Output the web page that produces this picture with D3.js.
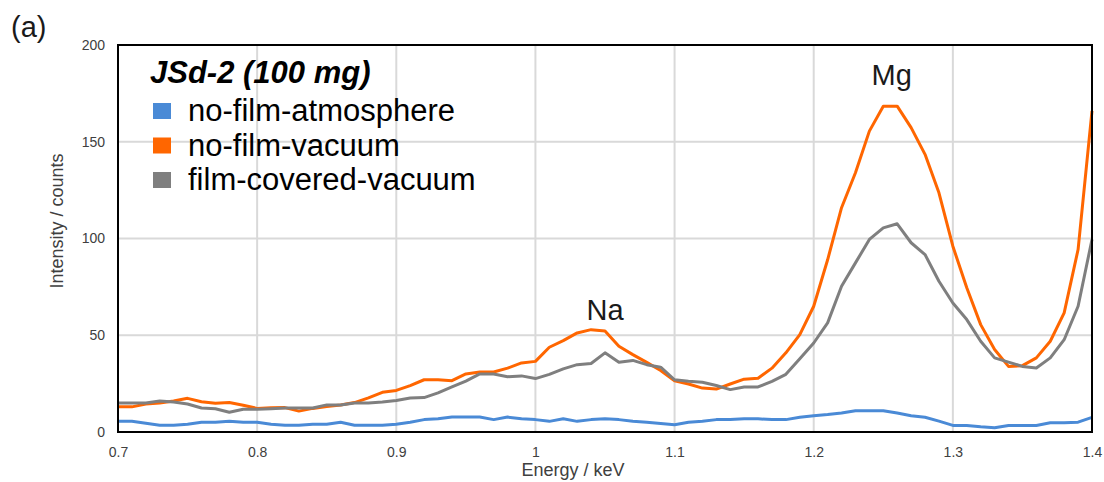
<!DOCTYPE html>
<html>
<head>
<meta charset="utf-8">
<script src="https://cdn.jsdelivr.net/npm/d3@7"></script>
<style>
  html, body { margin: 0; padding: 0; background: #fff; }
  svg { display: block; font-family: "Liberation Sans", Arial, sans-serif; }
</style>
</head>
<body>
<svg id="chart" width="1104" height="482"></svg>
<script>
// energy channels (keV)
const energies = [
  0.70, 0.71, 0.72, 0.73, 0.74, 0.75, 0.76, 0.77, 0.78, 0.79,
  0.80, 0.81, 0.82, 0.83, 0.84, 0.85, 0.86, 0.87, 0.88, 0.89,
  0.90, 0.91, 0.92, 0.93, 0.94, 0.95, 0.96, 0.97, 0.98, 0.99,
  1.00, 1.01, 1.02, 1.03, 1.04, 1.05, 1.06, 1.07, 1.08, 1.09,
  1.10, 1.11, 1.12, 1.13, 1.14, 1.15, 1.16, 1.17, 1.18, 1.19,
  1.20, 1.21, 1.22, 1.23, 1.24, 1.25, 1.26, 1.27, 1.28, 1.29,
  1.30, 1.31, 1.32, 1.33, 1.34, 1.35, 1.36, 1.37, 1.38, 1.39,
  1.40
];

const noFilmAtmosphere = [
  5.5, 5.5, 4.5, 3.5, 3.5, 4, 5, 5, 5.5, 5,
  5, 4, 3.5, 3.5, 4, 4, 5, 3.5, 3.5, 3.5,
  4, 5, 6.4, 6.8, 7.7, 7.7, 7.7, 6.4, 7.7, 6.8,
  6.4, 5.5, 6.8, 5.5, 6.4, 6.8, 6.4, 5.5, 5, 4.4,
  3.8, 5, 5.5, 6.4, 6.4, 6.8, 6.8, 6.4, 6.4, 7.6,
  8.4, 9, 9.8, 11, 11, 11, 9.8, 8.4, 7.6, 5.6,
  3.4, 3.4, 2.7, 2.2, 3.4, 3.4, 3.4, 4.8, 4.8, 5.1,
  7.6
];

const noFilmVacuum = [
  13, 13, 14.5, 15, 16, 17.4, 15.6, 14.8, 15.2, 13.8,
  12.2, 12.5, 12.6, 10.8, 12.2, 13.2, 14, 15.2, 17.6, 20.5,
  21.5, 24, 27, 27, 26.5, 30, 31, 31, 33, 35.7,
  36.5, 43.8, 47.2, 51.2, 52.9, 52.2, 44.3, 40, 36, 31.8,
  26.5, 24.8, 22.7, 22.2, 24.8, 27.3, 27.8, 33, 40.9, 50.3,
  65, 89, 115.9, 134, 155.5, 168.4, 168.4, 157.3, 143.5, 123.6,
  96, 74.5, 55.5, 42.6, 33.9, 34.3, 38.3, 46.9, 61.6, 94.3,
  166
];

const filmCoveredVacuum = [
  15, 15, 15, 16, 15.5, 14.5, 12.4, 12, 10.2, 11.8,
  11.7, 12, 12.4, 12.4, 12.4, 14, 14, 15, 15, 15.5,
  16.3, 17.6, 17.8, 20.2, 23.3, 26.3, 30, 30, 28.6, 29,
  27.6, 29.8, 32.6, 34.8, 35.4, 40.9, 36, 37, 34.8, 33.5,
  27, 26.2, 25.7, 24, 21.9, 23.3, 23.3, 26.2, 29.8, 37.8,
  46, 56.4, 75.3, 87.4, 99.5, 105.5, 107.6, 97.8, 91.7, 77.9,
  66.7, 58.1, 46.9, 38.3, 36.1, 33.9, 33.1, 38.3, 47.7, 65,
  99.5
];

const seriesNames = ["no-film-atmosphere", "no-film-vacuum", "film-covered-vacuum"];
const seriesColors = ["#4a8ad6", "#ff6600", "#7f7f7f"];
const xTicks = [0.7, 0.8, 0.9, 1.0, 1.1, 1.2, 1.3, 1.4];
const yTicks = [0, 50, 100, 150, 200];

// peak labels: [text, energy, counts]
const peakLabels = [["Na", 1.05, 58], ["Mg", 1.256, 179.5]];

const W = 1104, H = 482;
const margin = { top: 45, right: 12, bottom: 50, left: 118 };
const iw = W - margin.left - margin.right;
const ih = H - margin.top - margin.bottom;

const svg = d3.select("#chart");
const g = svg.append("g").attr("transform", `translate(${margin.left},${margin.top})`);

const x = d3.scaleLinear().domain([0.7, 1.4]).range([0, iw]);
const y = d3.scaleLinear().domain([0, 200]).range([ih, 0]);

// grid
g.append("g")
  .selectAll("line")
  .data(xTicks.slice(1, -1))
  .join("line")
  .attr("x1", d => x(d)).attr("x2", d => x(d))
  .attr("y1", 0).attr("y2", ih)
  .attr("stroke", "#d9d9d9").attr("stroke-width", 2);

g.append("g")
  .selectAll("line")
  .data(yTicks.slice(1, -1))
  .join("line")
  .attr("x1", 0).attr("x2", iw)
  .attr("y1", d => y(d)).attr("y2", d => y(d))
  .attr("stroke", "#d9d9d9").attr("stroke-width", 2);

// axes (labels only, frame drawn separately)
const xAxis = g.append("g")
  .attr("transform", `translate(0,${ih})`)
  .call(d3.axisBottom(x).tickValues(xTicks).tickFormat(d3.format("~g")).tickSize(0).tickPadding(15));
const yAxis = g.append("g")
  .call(d3.axisLeft(y).tickValues(yTicks).tickSize(0).tickPadding(13));
[xAxis, yAxis].forEach(a => {
  a.select(".domain").remove();
  a.selectAll("text")
    .attr("fill", "#404040")
    .style("font-size", "14px")
    .style("font-family", "'Liberation Sans', Arial, sans-serif");
});

// lines
const line = d3.line()
  .x((d, i) => x(energies[i]))
  .y(d => y(d));

const allSeries = [noFilmAtmosphere, noFilmVacuum, filmCoveredVacuum];
g.append("g")
  .selectAll("path")
  .data(allSeries)
  .join("path")
  .attr("d", d => line(d))
  .attr("fill", "none")
  .attr("stroke", (d, i) => seriesColors[i])
  .attr("stroke-width", 3)
  .attr("stroke-linejoin", "round");

// frame
g.append("rect")
  .attr("x", 0).attr("y", 0)
  .attr("width", iw).attr("height", ih)
  .attr("fill", "none").attr("stroke", "#000").attr("stroke-width", 2);

// peak labels
g.selectAll(".peak")
  .data(peakLabels)
  .join("text")
  .attr("class", "peak")
  .attr("x", d => x(d[1]))
  .attr("y", d => y(d[2]))
  .attr("text-anchor", "middle")
  .attr("fill", "#1a1a1a")
  .style("font-size", "29px")
  .text(d => d[0]);

// legend
const legend = svg.append("g").attr("transform", "translate(150,0)");
legend.append("text")
  .attr("x", 0).attr("y", 83)
  .style("font-size", "31px")
  .style("font-weight", "bold")
  .style("font-style", "italic")
  .attr("fill", "#000")
  .text("JSd-2 (100 mg)");

const items = legend.selectAll(".item")
  .data(seriesNames)
  .join("g")
  .attr("class", "item")
  .attr("transform", (d, i) => `translate(0,${103 + i * 34.5})`);
items.append("rect")
  .attr("x", 3).attr("y", 0)
  .attr("width", 18).attr("height", 16)
  .attr("fill", (d, i) => seriesColors[i]);
items.append("text")
  .attr("x", 38).attr("y", 18)
  .style("font-size", "31px")
  .attr("fill", "#000")
  .text(d => d);

// axis titles
svg.append("text")
  .attr("x", margin.left + iw / 2 - 32).attr("y", 476)
  .attr("text-anchor", "middle")
  .attr("fill", "#404040")
  .style("font-size", "18px")
  .text("Energy / keV");

svg.append("text")
  .attr("transform", `translate(63,${221}) rotate(-90)`)
  .attr("text-anchor", "middle")
  .attr("fill", "#404040")
  .style("font-size", "18px")
  .text("Intensity / counts");

// panel tag
svg.append("text")
  .attr("x", 11).attr("y", 37)
  .style("font-size", "29px")
  .attr("fill", "#1a1a1a")
  .text("(a)");
</script>
</body>
</html>
